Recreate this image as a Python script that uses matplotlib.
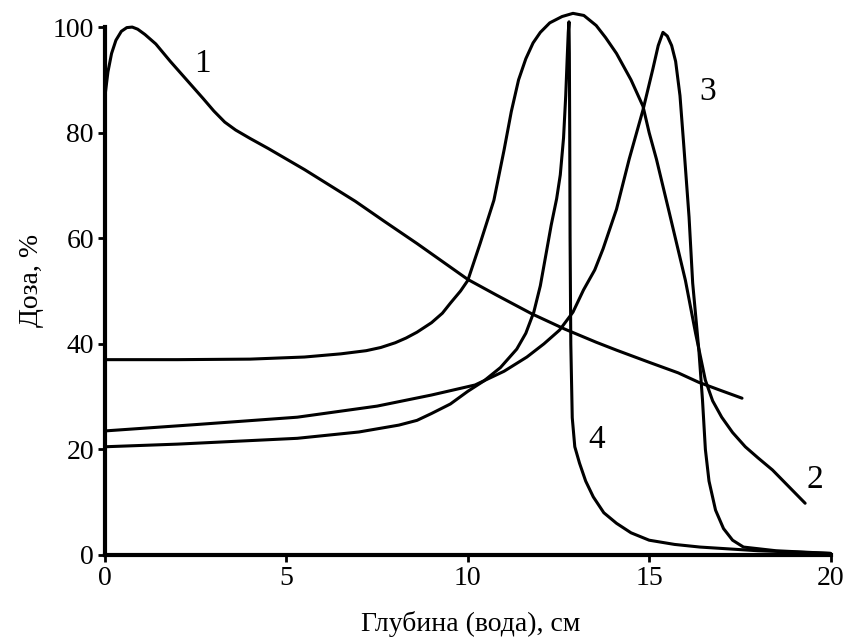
import matplotlib
matplotlib.use("Agg")
import matplotlib.pyplot as plt

# Curve 1
x1 = [0.0, 0.08, 0.18, 0.3, 0.45, 0.6, 0.75, 0.9, 1.1, 1.4, 1.8, 2.25, 2.7, 3.0, 3.3,
      3.6, 4.0, 4.5, 5.0, 5.5, 6.2, 6.9, 7.7, 8.6, 9.3, 10.0, 10.8, 11.76, 12.67, 13.54,
      14.1, 15.0, 15.8, 16.37, 17.0, 17.56]
y1 = [87, 91.5, 95, 97.5, 99.2, 99.9, 100, 99.6, 98.6, 96.8, 93.5, 90, 86.5, 84.1, 82.0,
      80.5, 78.9, 77.0, 75.0, 73, 70, 67, 63.2, 59, 55.6, 52.2, 49.2, 45.7, 42.8, 40.3,
      38.8, 36.5, 34.5, 32.7, 31.1, 29.7]

# Curve 2
x2 = [0.0, 2.0, 4.0, 5.5, 6.5, 7.2, 7.6, 8.0, 8.3, 8.6, 9.0, 9.3, 9.52, 9.8, 10.0, 10.34,
      10.72, 11.0, 11.2, 11.4, 11.6, 11.8, 12.0, 12.26, 12.6, 12.9, 13.2, 13.54, 13.8,
      14.1, 14.5, 14.83, 15.0, 15.2, 15.55, 16.0, 16.28, 16.55, 16.75, 17.0, 17.3, 17.65,
      18.0, 18.4, 18.8, 19.3]
y2 = [37.0, 37.0, 37.1, 37.5, 38.1, 38.7, 39.3, 40.2, 41.1, 42.2, 44, 45.8, 47.7, 50, 52,
      59, 67.2, 76.7, 84, 90, 94, 97, 99, 100.8, 102, 102.6, 102.2, 100.3, 98,
      95, 90, 85, 80, 75, 65, 52, 42, 33.1, 29.2, 26.1, 23.2, 20.5,
      18.4, 16.1, 13.3, 9.8]

# Curve 3
x3 = [0.0, 2.5, 5.3, 7.5, 9.0, 10.2, 11.0, 11.63, 12.1, 12.53, 12.9, 13.19, 13.5, 13.73,
      14.1, 14.45, 14.83, 15.1, 15.25, 15.38, 15.5, 15.62, 15.73, 15.85, 15.95, 16.1,
      16.2, 16.37, 16.47, 16.55, 16.65, 16.83, 17.05, 17.3, 17.6, 18.5, 20.0]
y3 = [23.5, 24.7, 26.1, 28.2, 30.3, 32.2, 34.8, 37.5, 40, 42.6, 46, 50.2, 54, 58,
      65.5, 75, 84.3, 92, 96.5, 99, 98.3, 96.5, 93.5, 87, 78, 64,
      51.5, 38.8, 29.4, 20, 14, 8.5, 5, 2.8, 1.5, 0.8, 0.3]

# Curve 4
x4 = [0.0, 2.0, 5.3, 7.0, 8.1, 8.6, 9.0, 9.52, 10.0, 10.45, 10.9, 11.35, 11.6, 11.82, 12.0,
      12.17, 12.3, 12.45, 12.55, 12.64, 12.7, 12.74, 12.77, 12.79, 12.8, 12.81, 12.82,
      12.84, 12.88, 12.95, 13.08, 13.25, 13.46, 13.75, 14.1, 14.5, 15.0, 15.7, 16.4, 18.0,
      20.0]
y4 = [20.5, 21.0, 22.1, 23.3, 24.6, 25.5, 26.8, 28.6, 31, 33, 35.5, 39, 42, 46, 51,
      57.5, 62.5, 67.5, 72, 79, 87, 94, 99, 101, 95, 80, 60,
      40, 26, 20.5, 17.4, 14, 11, 8, 6, 4.2, 2.8, 2, 1.5, 0.8,
      0.3]

curve_labels = ["1", "2", "3", "4"]
label_x = [2.68, 19.56, 16.6, 13.54]
label_y = [93.0, 14.2, 87.7, 21.8]

xticks = [0, 5, 10, 15, 20]
yticks = [0, 20, 40, 60, 80, 100]

plt.rcParams['font.family'] = ['Liberation Serif', 'DejaVu Serif']

fig = plt.figure(figsize=(8.56, 6.41), dpi=100)
ax = fig.add_axes([0.1227, 0.1342, 0.8539, 0.8565])

for xs, ys in [(x1, y1), (x2, y2), (x3, y3), (x4, y4)]:
    ax.plot(xs, ys, color='black', lw=2.2, solid_joinstyle='round', solid_capstyle='round')

for t, lx, ly in zip(curve_labels, label_x, label_y):
    ax.text(lx, ly, t, fontsize=24, ha='center', va='center', color='black')

ax.set_xlim(0, 20.15)
ax.set_ylim(0, 104)
ax.spines['top'].set_visible(False)
ax.spines['right'].set_visible(False)
ax.spines['left'].set_bounds(0, 100)
ax.spines['bottom'].set_bounds(0, 20)
ax.spines['left'].set_linewidth(3)
ax.spines['bottom'].set_linewidth(3)
ax.set_xticks(xticks)
ax.set_yticks(yticks)
ax.tick_params(direction='out', length=5, width=2, labelsize=20, pad=3)
ax.set_xlabel('Глубина (вода), см', fontsize=20, labelpad=14)
ax.set_ylabel('Доза, %', fontsize=20, labelpad=6)

fig.savefig('out.png', dpi=100)
